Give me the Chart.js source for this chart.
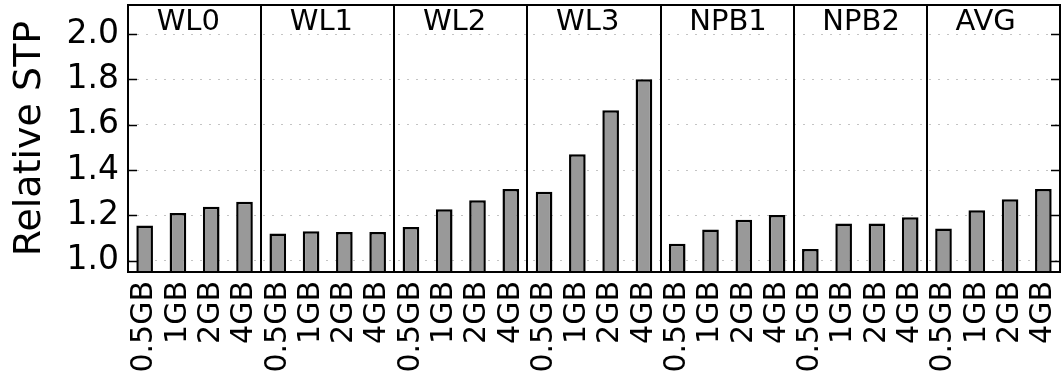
<!DOCTYPE html>
<html>
<head>
<meta charset="utf-8">
<style>
  html, body { margin: 0; padding: 0; background: #ffffff; }
  canvas { display: block; }
</style>
<script src="https://cdn.jsdelivr.net/npm/chart.js@4/dist/chart.umd.min.js"></script>
</head>
<body>
<canvas id="stp" width="1061" height="378"></canvas>
<script>
// Workload groups and the memory sizes measured within each group
const groups = ['WL0', 'WL1', 'WL2', 'WL3', 'NPB1', 'NPB2', 'AVG'];
const sizes = ['0.5GB', '1GB', '2GB', '4GB'];

// Relative STP per memory size, one array per group
const wl0  = [1.155, 1.210, 1.238, 1.260];
const wl1  = [1.120, 1.130, 1.126, 1.126];
const wl2  = [1.148, 1.227, 1.267, 1.316];
const wl3  = [1.304, 1.470, 1.664, 1.800];
const npb1 = [1.075, 1.138, 1.180, 1.202];
const npb2 = [1.052, 1.164, 1.164, 1.192];
const avg  = [1.142, 1.222, 1.271, 1.316];

// Y-axis tick values and range
const yTicks = [1.0, 1.2, 1.4, 1.6, 1.8, 2.0];
const yMin = 0.95;
const yMax = 2.128;

const FONT = "'DejaVu Sans', 'Liberation Sans', sans-serif";

const groupValues = [wl0, wl1, wl2, wl3, npb1, npb2, avg];
const labels = [];
const values = [];
groups.forEach((g, gi) => {
  sizes.forEach((s, si) => {
    labels.push(s);
    values.push(groupValues[gi][si]);
  });
});

function zeroPadding(scale) {
  scale.paddingTop = 0;
  scale.paddingBottom = 0;
  scale.paddingLeft = 0;
  scale.paddingRight = 0;
}

// Frame, group separators, inward ticks and group names
const framePlugin = {
  id: 'frame',
  afterDraw(chart) {
    const { ctx, chartArea: a, scales } = chart;
    const x = scales.x, y = scales.y;
    const n = sizes.length;
    const slot = (a.right - a.left) / labels.length;
    ctx.save();
    ctx.strokeStyle = '#000';

    // group separators
    ctx.lineWidth = 2;
    for (let g = 1; g < groups.length; g++) {
      const px = Math.round(x.getPixelForValue(g * n) - slot / 2);
      ctx.beginPath();
      ctx.moveTo(px, a.top);
      ctx.lineTo(px, a.bottom);
      ctx.stroke();
    }

    // inward ticks on left and right
    ctx.lineWidth = 1.5;
    yTicks.forEach(v => {
      const py = Math.round(y.getPixelForValue(v)) + 0.5;
      ctx.beginPath();
      ctx.moveTo(a.left, py);
      ctx.lineTo(a.left + 9, py);
      ctx.moveTo(a.right, py);
      ctx.lineTo(a.right - 9, py);
      ctx.stroke();
    });

    // plot frame
    ctx.lineWidth = 2;
    ctx.strokeRect(a.left, a.top, a.right - a.left, a.bottom - a.top);

    // group names along the top
    ctx.fillStyle = '#000';
    ctx.font = '29px ' + FONT;
    ctx.textAlign = 'left';
    ctx.textBaseline = 'alphabetic';
    groups.forEach((g, gi) => {
      const start = x.getPixelForValue(gi * n) - slot / 2;
      ctx.fillText(g, start + slot * 0.86, a.top + 25);
    });
    ctx.restore();
  }
};

new Chart(document.getElementById('stp'), {
  type: 'bar',
  data: {
    labels: labels,
    datasets: [{
      data: values,
      backgroundColor: '#999999',
      borderColor: '#000000',
      borderWidth: 2.5,
      borderSkipped: false,
      barPercentage: 0.5,
      categoryPercentage: 1.0
    }]
  },
  options: {
    responsive: false,
    animation: false,
    devicePixelRatio: 1,
    layout: { padding: { top: 5, right: 1, left: 0, bottom: 0 } },
    plugins: {
      legend: { display: false },
      tooltip: { enabled: false }
    },
    scales: {
      x: {
        type: 'category',
        offset: true,
        grid: { display: false, drawTicks: false },
        border: { display: false },
        ticks: {
          autoSkip: false,
          minRotation: 90,
          maxRotation: 90,
          padding: 9,
          color: '#000',
          font: { family: FONT, size: 30 }
        },
        afterFit(scale) { scale.height = 106; zeroPadding(scale); }
      },
      y: {
        min: yMin,
        max: yMax,
        grid: { color: '#c4c4c4', lineWidth: 1, drawTicks: false },
        border: { display: false, dash: [2, 7] },
        afterBuildTicks(scale) {
          scale.ticks = yTicks.map(v => ({ value: v }));
        },
        ticks: {
          padding: 9,
          color: '#000',
          font: { family: FONT, size: 33 },
          callback: v => Number(v).toFixed(1)
        },
        title: {
          display: true,
          text: 'Relative STP',
          color: '#000',
          padding: { top: 7, bottom: 0 },
          font: { family: FONT, size: 38 }
        },
        afterFit(scale) { scale.width = 128; zeroPadding(scale); }
      }
    }
  },
  plugins: [framePlugin]
});
</script>
</body>
</html>
